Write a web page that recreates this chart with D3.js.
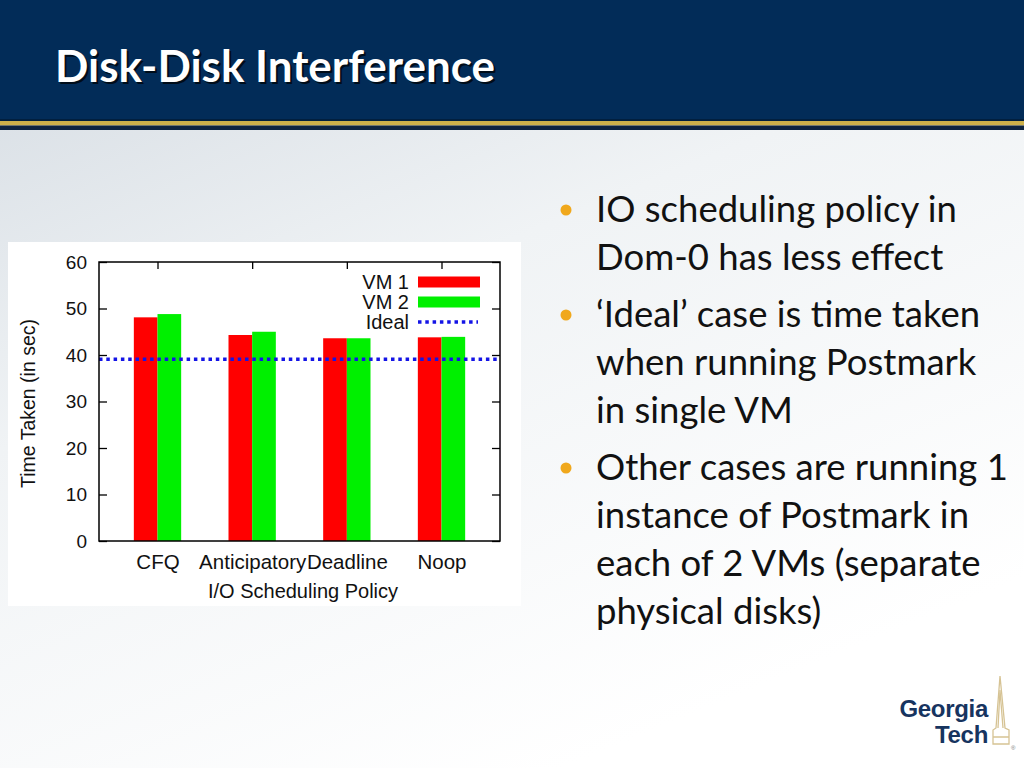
<!DOCTYPE html>
<html>
<head>
<meta charset="utf-8">
<script src="https://cdn.jsdelivr.net/npm/d3@7"></script>
<style>
  html, body { margin: 0; padding: 0; background: #fff; }
  svg { display: block; }
</style>
</head>
<body>
<svg id="slide" width="1024" height="768"></svg>
<script>
// ---------------- data ----------------
const categories = ["CFQ", "Anticipatory", "Deadline", "Noop"];
const vm1 = [48.1, 44.3, 43.6, 43.8];
const vm2 = [48.8, 45.0, 43.6, 43.9];
const idealValue = 39.1;
const yTicks = [0, 10, 20, 30, 40, 50, 60];
const seriesNames = ["VM 1", "VM 2", "Ideal"];
const titleText = "Disk-Disk Interference";
const bullets = [
  ["IO scheduling policy in", "Dom-0 has less effect"],
  ["\u2018Ideal\u2019 case is time taken", "when running Postmark", "in single VM"],
  ["Other cases are running 1", "instance of Postmark in", "each of 2 VMs (separate", "physical disks)"]
];

// ---------------- slide ----------------
const svg = d3.select("#slide");
const defs = svg.append("defs");
const bg = defs.append("linearGradient").attr("id", "bg")
  .attr("x1", 0).attr("y1", 0).attr("x2", 0.55).attr("y2", 1);
bg.append("stop").attr("offset", 0).attr("stop-color", "#d4dbe2");
bg.append("stop").attr("offset", 0.45).attr("stop-color", "#f0f3f5");
bg.append("stop").attr("offset", 1).attr("stop-color", "#ffffff");

svg.append("rect").attr("width", 1024).attr("height", 768).attr("fill", "url(#bg)");

// header
svg.append("rect").attr("x", 0).attr("y", 0).attr("width", 1024).attr("height", 120).attr("fill", "#022c58");
svg.append("rect").attr("x", 0).attr("y", 119).attr("width", 1024).attr("height", 2).attr("fill", "#011f3e");
svg.append("rect").attr("x", 0).attr("y", 121).attr("width", 1024).attr("height", 4.5).attr("fill", "#cdb04a");
svg.append("rect").attr("x", 0).attr("y", 125.5).attr("width", 1024).attr("height", 4.5).attr("fill", "#0d2340");

// title (fit to measured width)
const titleFont = "Lato, 'Open Sans', sans-serif";
const tShadow = svg.append("text").attr("x", 57).attr("y", 84)
  .attr("font-family", titleFont).attr("font-weight", 700).attr("font-size", 40)
  .attr("fill", "#000").attr("opacity", 0.7).text(titleText);
const tMain = svg.append("text").attr("x", 55).attr("y", 82)
  .attr("font-family", titleFont).attr("font-weight", 700).attr("font-size", 40)
  .attr("fill", "#ffffff").text(titleText);
{
  const w = tMain.node().getComputedTextLength();
  const fs = 40 * 440 / w;
  tMain.attr("font-size", fs);
  tShadow.attr("font-size", fs);
}

// bullets
const bulletFont = "Lato, 'Open Sans', sans-serif";
const bulletG = svg.append("g");
const lineGap = 48, paraGap = 57;
let baseY = 222;
const textNodes = [];
bullets.forEach((para, pi) => {
  para.forEach((line, li) => {
    if (li === 0) {
      bulletG.append("circle").attr("cx", 566).attr("cy", baseY - 12).attr("r", 5.5).attr("fill", "#f0a81c");
    }
    const t = bulletG.append("text").attr("x", 596).attr("y", baseY)
      .attr("font-family", bulletFont).attr("font-size", 32).attr("fill", "#111111").text(line);
    textNodes.push(t);
    baseY += (li === para.length - 1) ? paraGap : lineGap;
  });
});
{
  const longest = textNodes[5].node().getComputedTextLength();
  const fs = 32 * 412 / longest;
  textNodes.forEach(t => t.attr("font-size", fs));
}

// ---------------- chart ----------------
const chartFont = "'Liberation Sans', Arial, Helvetica, sans-serif";
svg.append("rect").attr("x", 8).attr("y", 242).attr("width", 513).attr("height", 364).attr("fill", "#ffffff");

const plot = { left: 99, right: 500, top: 262, bottom: 541 };
const x = d3.scaleLinear().domain([-0.618, 3.618]).range([plot.left, plot.right]);
const y = d3.scaleLinear().domain([0, 60]).range([plot.bottom, plot.top]);
const barW = 0.25;

const g = svg.append("g");

// bars
g.selectAll("rect.vm1").data(vm1).join("rect").attr("class", "vm1")
  .attr("x", (d, i) => x(i - barW)).attr("width", (d, i) => x(i) - x(i - barW))
  .attr("y", d => y(d)).attr("height", d => y(0) - y(d)).attr("fill", "#ff0000");
g.selectAll("rect.vm2").data(vm2).join("rect").attr("class", "vm2")
  .attr("x", (d, i) => x(i)).attr("width", (d, i) => x(i + barW) - x(i))
  .attr("y", d => y(d)).attr("height", d => y(0) - y(d)).attr("fill", "#00f000");

// ideal line
g.append("line").attr("x1", plot.left).attr("x2", plot.right)
  .attr("y1", y(idealValue)).attr("y2", y(idealValue))
  .attr("stroke", "#1414e6").attr("stroke-width", 3.5).attr("stroke-dasharray", "3.5,3.8");

// axes (left, right, top, bottom with inward ticks)
const leftAxis = d3.axisLeft(y).tickValues(yTicks).tickSize(-8).tickPadding(12).tickFormat(d3.format("d"));
const rightAxis = d3.axisRight(y).tickValues(yTicks).tickSize(-8).tickFormat("");
const topAxis = d3.axisTop(x).tickValues(d3.range(categories.length)).tickSize(-7).tickFormat("");
const bottomAxis = d3.axisBottom(x).tickValues(d3.range(categories.length)).tickSize(0).tickPadding(13)
  .tickFormat(i => categories[i]);

function styleAxis(sel, fs) {
  sel.select(".domain").remove();
  sel.selectAll(".tick line").attr("stroke", "#000").attr("stroke-width", 1.3);
  sel.selectAll(".tick text").attr("font-family", chartFont).attr("font-size", fs).attr("fill", "#111");
}
g.append("g").attr("transform", `translate(${plot.left},0)`).call(leftAxis).call(styleAxis, 19);
g.append("g").attr("transform", `translate(${plot.right},0)`).call(rightAxis).call(styleAxis, 19);
g.append("g").attr("transform", `translate(0,${plot.top})`).call(topAxis).call(styleAxis, 19);
g.append("g").attr("transform", `translate(0,${plot.bottom})`).call(bottomAxis).call(styleAxis, 20.5);

// frame
g.append("rect").attr("x", plot.left).attr("y", plot.top)
  .attr("width", plot.right - plot.left).attr("height", plot.bottom - plot.top)
  .attr("fill", "none").attr("stroke", "#000").attr("stroke-width", 1.5);

// axis titles
g.append("text").attr("transform", `translate(35,${(plot.top + plot.bottom) / 2 + 2}) rotate(-90)`)
  .attr("text-anchor", "middle").attr("font-family", chartFont).attr("font-size", 19.5).attr("fill", "#111")
  .text("Time Taken (in sec)");
g.append("text").attr("x", 303).attr("y", 598).attr("text-anchor", "middle")
  .attr("font-family", chartFont).attr("font-size", 20).attr("fill", "#111")
  .text("I/O Scheduling Policy");

// legend
const legendRows = [282, 302, 322];
const legendColors = ["#ff0000", "#00f000", "#1414e6"];
seriesNames.forEach((name, k) => {
  g.append("text").attr("x", 409).attr("y", legendRows[k] + 7).attr("text-anchor", "end")
    .attr("font-family", chartFont).attr("font-size", 20).attr("fill", "#111").text(name);
  if (k < 2) {
    g.append("rect").attr("x", 418).attr("y", legendRows[k] - 5.5).attr("width", 62).attr("height", 11)
      .attr("fill", legendColors[k]);
  } else {
    g.append("line").attr("x1", 418).attr("x2", 478).attr("y1", legendRows[k]).attr("y2", legendRows[k])
      .attr("stroke", legendColors[k]).attr("stroke-width", 3.5).attr("stroke-dasharray", "3.5,3.8");
  }
});

// ---------------- logo ----------------
const logo = svg.append("g");
logo.append("text").attr("x", 988).attr("y", 717).attr("text-anchor", "end")
  .attr("font-family", chartFont).attr("font-weight", 700).attr("font-size", 24)
  .attr("letter-spacing", -0.3).attr("fill", "#17345f").text("Georgia");
logo.append("text").attr("x", 988).attr("y", 743).attr("text-anchor", "end")
  .attr("font-family", chartFont).attr("font-weight", 700).attr("font-size", 24)
  .attr("letter-spacing", -0.3).attr("fill", "#17345f").text("Tech");
const spire = logo.append("g").attr("fill", "none").attr("stroke", "#d6c394").attr("stroke-width", 1.3);
spire.append("path").attr("d", "M1000,676 L996,728 L993,730 L993,744 L1009,744 L1009,730 L1005,728 Z");
spire.append("path").attr("d", "M1000,690 L998,728 M1000,690 L1003,728 M993,737 L1009,737");
logo.append("text").attr("x", 1011).attr("y", 750).attr("font-family", chartFont)
  .attr("font-size", 6).attr("fill", "#777").text("\u00ae");
</script>
</body>
</html>
